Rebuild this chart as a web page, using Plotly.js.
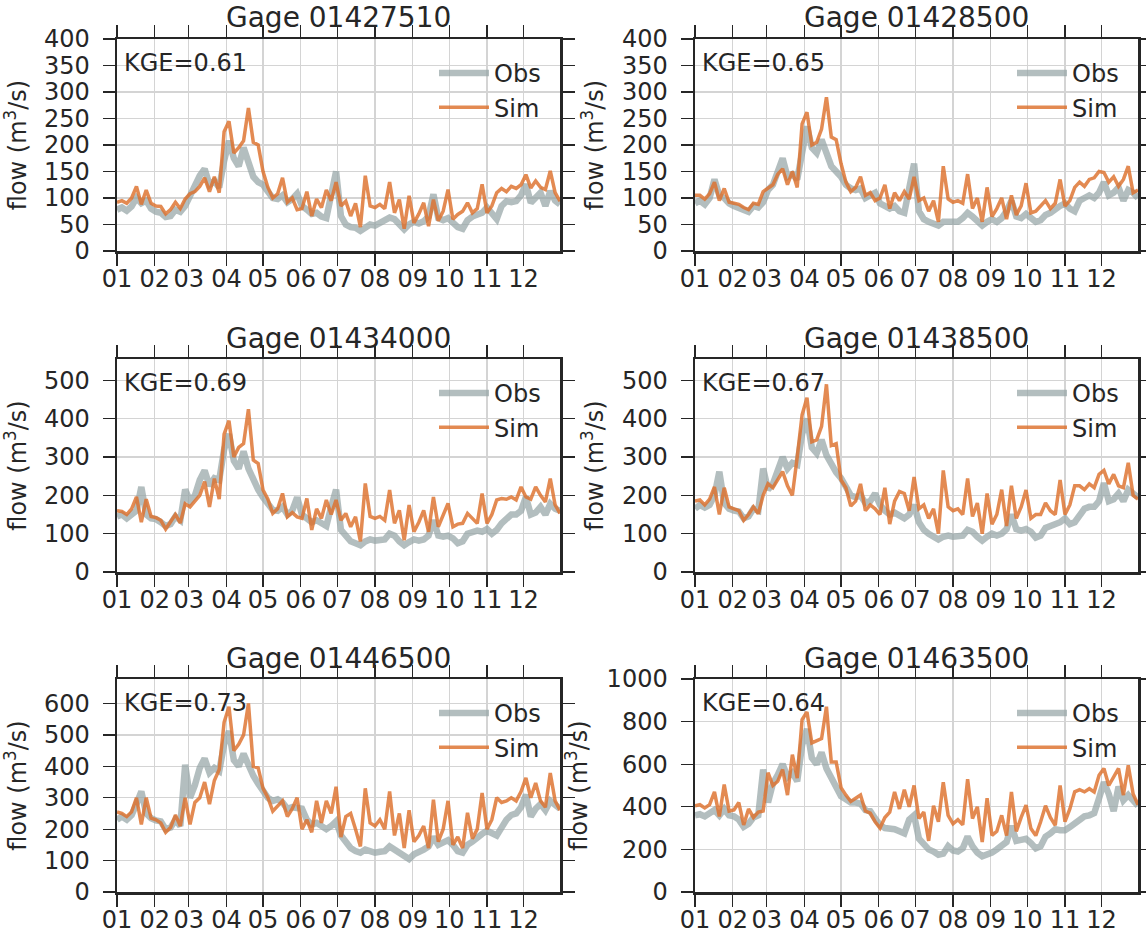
<!DOCTYPE html>
<html>
<head>
<meta charset="utf-8">
<script src="https://cdn.plot.ly/plotly-3.0.1.min.js"></script>
<style>
  html, body { margin: 0; padding: 0; background: #ffffff; }
  #chart { width: 1146px; height: 939px; }
</style>
</head>
<body>
<div id="chart"></div>
<script>
const DAYS = [0,4,8,12,16,20,24,28,32,36,40,44,48,52,56,60,64,68,72,76,80,84,88,92,96,100,104,108,112,116,120,124,128,132,136,140,144,148,152,156,160,164,168,172,176,180,184,188,192,196,200,204,208,212,216,220,224,228,232,236,240,244,248,252,256,260,264,268,272,276,280,284,288,292,296,300,304,308,312,316,320,324,328,332,336,340,344,348,352,356,360,364];

const GAGES = ['01427510','01428500','01434000','01438500','01446500','01463500'];
const KGE = ['0.61','0.65','0.69','0.67','0.73','0.64'];
const SERIES_NAMES = ['Obs','Sim'];

const OBS_01427510 = [78,82,76,84,100,90,95,80,74,72,
 64,66,78,74,85,105,118,142,155,125,
 132,120,170,208,175,160,195,165,140,130,
 125,112,100,98,105,92,98,108,85,78,
 70,72,65,62,110,150,66,50,45,44,
 38,46,50,48,52,58,63,60,50,41,
 50,55,52,56,65,107,62,58,62,55,
 45,42,58,65,70,72,82,70,60,85,
 94,92,94,105,126,91,100,110,85,113,
 95,88];
const SIM_01427510 = [92,95,90,100,122,88,115,90,85,84,
 70,78,92,80,98,108,112,122,138,112,
 140,110,225,245,185,195,208,270,205,200,
 150,120,100,108,138,92,100,78,80,112,
 66,98,82,115,95,130,85,94,66,90,
 45,142,85,82,88,80,130,72,97,42,
 104,53,70,91,47,97,57,75,116,60,
 69,75,91,72,80,126,72,85,110,118,
 112,122,118,125,144,119,132,120,116,151,
 110,94];

const OBS_01428500 = [90,95,88,100,135,105,100,90,85,82,
 76,74,85,82,92,115,125,150,175,140,
 145,135,185,235,195,185,210,180,160,150,
 140,125,118,115,118,100,105,110,90,85,
 80,85,75,72,115,165,75,60,55,52,
 48,55,55,52,55,62,72,65,55,48,
 55,60,55,62,75,95,65,62,70,62,
 55,58,68,72,80,85,90,80,75,95,
 100,105,100,110,130,105,110,120,95,115,
 110,100];
const SIM_01428500 = [105,105,98,108,130,95,118,92,90,88,
 82,78,90,88,112,118,125,145,155,125,
 150,120,240,262,200,205,230,290,215,210,
 165,130,112,120,140,105,110,95,100,125,
 80,110,95,112,98,140,95,100,75,95,
 55,160,98,92,95,90,145,80,100,55,
 120,65,80,100,60,105,68,85,128,72,
 75,85,95,80,90,135,85,95,120,130,
 122,135,138,150,148,130,140,122,135,160,
 110,115];

const OBS_01434000 = [145,150,140,150,160,222,150,140,138,130,
 120,125,145,135,215,185,200,240,265,225,
 245,240,320,360,290,270,315,270,240,215,
 195,180,162,160,170,150,160,195,150,140,
 130,135,125,120,170,215,110,95,80,75,
 70,80,85,82,83,85,100,95,80,70,
 78,85,82,85,95,135,95,92,95,88,
 75,80,100,105,108,105,112,100,110,127,
 140,150,150,160,196,150,155,170,150,178,
 165,160];
const SIM_01434000 = [160,158,150,165,196,130,190,145,142,135,
 112,130,150,128,178,170,185,200,236,170,
 244,190,360,395,300,325,335,425,292,283,
 214,190,153,165,205,144,155,144,140,192,
 110,165,140,188,150,188,135,153,118,144,
 80,231,145,140,145,135,214,127,161,83,
 175,105,130,161,105,196,118,150,179,118,
 125,127,153,140,127,205,127,150,188,192,
 190,196,188,222,196,190,222,200,183,244,
 175,153];

const OBS_01438500 = [165,175,168,175,200,262,180,165,160,158,
 140,145,165,160,270,215,230,265,300,270,
 285,280,360,400,325,310,345,305,280,260,
 245,220,200,195,200,180,185,205,175,160,
 150,155,145,140,150,175,130,110,100,92,
 85,92,95,92,93,95,110,105,92,82,
 92,100,95,100,112,150,112,108,112,105,
 90,95,115,120,125,130,140,125,130,150,
 165,170,170,185,232,185,190,205,185,215,
 205,195];
const SIM_01438500 = [185,188,175,190,222,150,220,170,165,160,
 135,150,170,152,200,230,220,240,262,225,
 200,300,410,455,340,345,380,490,330,335,
 240,220,172,185,230,160,175,165,150,220,
 125,185,210,205,160,248,165,175,140,165,
 100,265,170,160,165,150,244,145,180,100,
 205,125,150,215,120,225,140,170,214,140,
 150,150,180,160,150,240,150,175,225,225,
 215,230,220,255,265,230,255,225,220,285,
 200,190];

const OBS_01446500 = [230,240,230,245,280,320,250,235,228,225,
 200,205,230,210,405,300,340,395,425,380,
 395,385,470,512,420,400,440,400,370,345,
 320,300,290,295,285,265,270,270,265,230,
 215,220,210,200,210,225,180,160,140,130,
 125,135,130,125,128,130,145,135,125,115,
 105,120,125,135,145,175,150,160,165,150,
 130,125,150,160,175,185,195,190,180,205,
 230,245,250,270,310,240,265,280,260,290,
 275,265];
const SIM_01446500 = [255,250,240,255,300,215,300,235,230,220,
 190,205,245,210,300,215,285,300,350,280,
 355,390,540,590,450,470,500,600,400,395,
 330,300,257,275,290,240,265,300,200,230,
 190,290,220,290,250,335,175,240,250,200,
 145,330,220,210,230,200,320,180,250,140,
 260,160,180,210,140,294,160,200,290,150,
 175,140,252,170,200,315,200,230,300,285,
 290,300,290,320,363,300,347,290,270,379,
 290,260];

const OBS_01463500 = [360,365,355,370,385,360,390,360,355,340,
 306,320,350,360,575,420,510,550,600,540,
 560,520,690,765,630,600,655,580,535,500,
 450,435,420,420,415,385,380,345,315,300,
 300,295,285,275,340,360,250,220,200,190,
 175,180,215,195,190,205,260,215,185,168,
 175,185,200,215,235,310,240,245,250,230,
 205,215,260,275,295,290,290,305,320,340,
 355,360,370,440,515,460,380,495,430,455,
 430,405];
const SIM_01463500 = [405,410,395,410,470,355,505,380,385,420,
 315,390,350,375,380,560,500,520,575,455,
 645,535,810,845,700,710,720,870,610,610,
 490,455,425,440,455,380,370,330,300,350,
 375,470,390,480,400,500,345,375,240,405,
 330,515,360,320,340,315,530,345,400,235,
 440,266,285,360,265,470,285,350,408,298,
 265,330,405,350,313,500,330,390,470,480,
 470,485,470,548,580,500,540,580,455,595,
 460,410];

const OBS = [OBS_01427510, OBS_01428500, OBS_01434000, OBS_01438500, OBS_01446500, OBS_01463500];
const SIM = [SIM_01427510, SIM_01428500, SIM_01434000, SIM_01438500, SIM_01446500, SIM_01463500];

// ---- Layout / style ----
const W = 1146, H = 939;
const TXT = '#262626';
const FONT = 'DejaVu Sans, sans-serif';
const OBS_COLOR = 'rgba(149,165,166,0.72)';
const SIM_COLOR = 'rgba(221,112,44,0.82)';

// plot frames in pixels
const COLS = [[117, 560], [695, 1138]];
const ROWS = [[39, 251], [359, 572], [679, 892]];
const YMAX = [400, 400, 556, 556, 678, 1000];
const YDTICK = [50, 50, 100, 100, 100, 200];

function toDate(d) {
  const t = new Date(Date.UTC(2001, 0, 1) + d * 86400000);
  return t.toISOString().slice(0, 10);
}
const X = DAYS.map(toDate);

const traces = [];
const layout = {
  width: W, height: H,
  margin: {l: 0, r: 0, t: 0, b: 0},
  paper_bgcolor: '#ffffff',
  plot_bgcolor: '#ffffff',
  font: {family: FONT, color: TXT, size: 24},
  annotations: [],
  showlegend: true
};

for (let k = 0; k < 6; k++) {
  const col = k % 2, row = Math.floor(k / 2);
  const sfx = k === 0 ? '' : String(k + 1);
  const xa = 'x' + sfx, ya = 'y' + sfx;
  const lg = 'legend' + sfx;
  const [x0, x1] = COLS[col];
  const [y0, y1] = ROWS[row];

  traces.push({
    x: X, y: OBS[k], xaxis: xa, yaxis: ya, type: 'scatter', mode: 'lines',
    name: SERIES_NAMES[0], legend: lg,
    line: {color: OBS_COLOR, width: 6.5}
  });
  traces.push({
    x: X, y: SIM[k], xaxis: xa, yaxis: ya, type: 'scatter', mode: 'lines',
    name: SERIES_NAMES[1], legend: lg,
    line: {color: SIM_COLOR, width: 3.5}
  });

  layout['xaxis' + sfx] = {
    domain: [x0 / W, x1 / W],
    anchor: ya,
    type: 'date',
    range: ['2001-01-01', '2001-12-31'],
    tick0: '2001-01-01', dtick: 'M1', tickformat: '%m',
    ticks: 'outside', ticklen: 12, tickwidth: 1.3, tickcolor: TXT,
    ticklabelstandoff: -7,
    showline: true, linecolor: TXT, linewidth: 2.5, mirror: 'allticks',
    showgrid: true, gridcolor: '#d4d4d4', gridwidth: 1.2,
    zeroline: false,
    tickfont: {size: 24, color: TXT, family: FONT},
    automargin: false, fixedrange: true
  };
  layout['yaxis' + sfx] = {
    domain: [1 - y1 / H, 1 - y0 / H],
    anchor: xa,
    range: [0, YMAX[k]],
    dtick: YDTICK[k], tick0: 0,
    ticks: 'outside', ticklen: 12, tickwidth: 1.3, tickcolor: TXT,
    ticklabelstandoff: 8,
    showline: true, linecolor: TXT, linewidth: 2.5, mirror: 'allticks',
    showgrid: true, gridcolor: '#d4d4d4', gridwidth: 1.2,
    zeroline: false,
    tickfont: {size: 24, color: TXT, family: FONT},
    title: {text: 'flow (m<sup>3</sup>/s)', font: {size: 24, color: TXT, family: FONT}, standoff: 12},
    automargin: false, fixedrange: true
  };
  layout[lg] = {
    x: (x1 - 14) / W, y: 1 - (y0 + 12) / H,
    xanchor: 'right', yanchor: 'top',
    bgcolor: 'rgba(0,0,0,0)', borderwidth: 0,
    font: {size: 24, color: TXT, family: FONT},
    itemwidth: 50
  };
  layout.annotations.push({
    xref: xa + ' domain', yref: ya + ' domain', x: 0.5, y: 1,
    xanchor: 'center', yanchor: 'middle', yshift: 21, showarrow: false,
    text: 'Gage ' + GAGES[k], font: {size: 28, color: TXT, family: FONT}
  });
  layout.annotations.push({
    xref: xa + ' domain', yref: ya + ' domain', x: 0, y: 1,
    xanchor: 'left', yanchor: 'middle', xshift: 5, yshift: -24, showarrow: false,
    text: 'KGE=' + KGE[k], font: {size: 24, color: TXT, family: FONT}
  });
}

Plotly.newPlot('chart', traces, layout, {staticPlot: true, displayModeBar: false});
</script>
</body>
</html>
